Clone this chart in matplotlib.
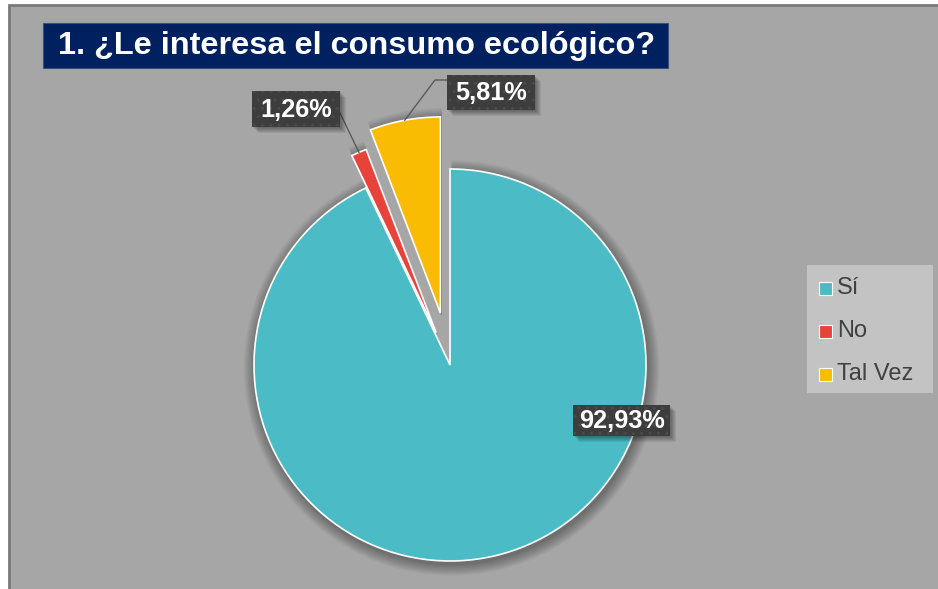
import numpy as np
import matplotlib
matplotlib.use("Agg")
import matplotlib.pyplot as plt
from matplotlib.patches import Rectangle, Wedge

plt.rcParams['font.family'] = ['Liberation Sans', 'DejaVu Sans']

# encuesta: pregunta 1
categorias = ['Sí', 'No', 'Tal Vez']
porcentajes = [92.93, 1.26, 5.81]
colores = ['#4bbbc6', '#e8433a', '#f9bc02']
separacion = [0.0, 0.18, 0.27]
titulo = '1. ¿Le interesa el consumo ecológico?'

W, H = 938, 589
CX, CY, R = 450, 365, 196


def px(x, y):
    # pixel coords (origin top-left) -> data units of the pie axes
    return (x - CX) / R, (CY - y) / R


def caja(ax, x0, y0, x1, y1, **kw):
    a, b = px(x0, y1)
    c, d = px(x1, y0)
    r = Rectangle((a, b), c - a, d - b, **kw)
    ax.add_patch(r)
    return r


def etiqueta(ax, x0, y0, x1, y1, texto):
    # sombra difusa
    for k in range(1, 7):
        caja(ax, x0 + k, y0 + k, x1 + k, y1 + k, facecolor='black',
             edgecolor='none', alpha=0.07, zorder=6)
    caja(ax, x0, y0, x1, y1, facecolor='#3d3d3d', edgecolor='#4a4a4a',
         hatch='..', lw=0, zorder=7)
    ax.text(*px((x0 + x1) / 2, (y0 + y1) / 2 + 1), texto, color='white',
            fontsize=18.2, fontweight='bold', ha='center', va='center', zorder=8)


def fmt(v):
    return f'{v:.2f}%'.replace('.', ',')


fig = plt.figure(figsize=(W / 100, H / 100), dpi=100, facecolor='white')
ax = fig.add_axes([0, 0, 1, 1])

caja(ax, 9, 5, W + 5, H + 5, facecolor='#a6a6a6', edgecolor='#7a7a7a', lw=2, zorder=0)

wedges, _ = ax.pie(porcentajes, colors=colores, explode=separacion, startangle=90,
                   counterclock=False, radius=1,
                   wedgeprops=dict(edgecolor='white', linewidth=1.2, zorder=3))
ax.set_xlim(px(0, 0)[0], px(W, 0)[0])
ax.set_ylim(px(0, H)[1], px(0, 0)[1])
ax.set_aspect('auto')
ax.axis('off')

# sombra de los sectores
for w in wedges:
    for k in range(1, 11):
        ax.add_patch(Wedge((w.center[0] + 0.008, w.center[1] - 0.015), w.r + k * 0.006,
                           w.theta1, w.theta2, facecolor='black', edgecolor='none',
                           alpha=0.035, zorder=2))


def borde_medio(w):
    t = np.deg2rad((w.theta1 + w.theta2) / 2)
    return w.center[0] + w.r * np.cos(t), w.center[1] + w.r * np.sin(t)


# líneas guía
gris = '#5a5a5a'
xn, yn = borde_medio(wedges[1])
a, b = px(340, 113)
ax.plot([a, xn], [b, yn], color=gris, lw=1, zorder=4)
xt, yt = borde_medio(wedges[2])
a, b = px(447, 80)
c, d = px(435, 80)
ax.plot([a, c, xt], [b, d, yt], color=gris, lw=1, zorder=4)

etiqueta(ax, 573, 405, 670, 436, fmt(porcentajes[0]))
etiqueta(ax, 252, 91, 340, 127, fmt(porcentajes[1]))
etiqueta(ax, 447, 75, 535, 110, fmt(porcentajes[2]))

# título
caja(ax, 43, 23, 668, 68, facecolor='#002060', edgecolor='#3a4f80', lw=0.8, zorder=5)
ax.text(*px(357, 46), titulo, color='white', fontsize=23.4, fontweight='bold',
        ha='center', va='center', zorder=6)

# leyenda
caja(ax, 807, 265, 933, 393, facecolor='#c3c3c3', edgecolor='none', zorder=5)
for i, (cat, col) in enumerate(zip(categorias, colores)):
    y = 288 + i * 43
    caja(ax, 819, y - 6.5, 832, y + 6.5, facecolor=col, edgecolor='white', lw=0.8, zorder=6)
    ax.text(*px(837, y), cat, color='#404040', fontsize=17, ha='left', va='center',
            zorder=6)

fig.savefig('out.png', dpi=100, facecolor='white')
